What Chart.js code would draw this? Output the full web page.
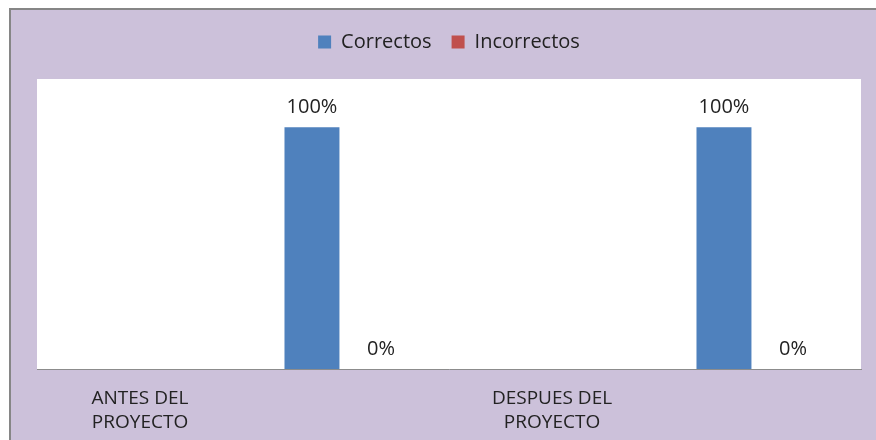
<!DOCTYPE html>
<html lang="es">
<head>
    <meta charset="UTF-8">
    <title>Correctos / Incorrectos</title>
    <style>
        html, body {
            margin: 0;
            width: 876px;
            height: 440px;
            overflow: hidden;
            background: #ffffff;
            font-family: "Open Sans", sans-serif;
        }
        #frame {
            position: absolute;
            left: 9px;
            top: 8px;
            width: 880px;
            height: 450px;
            background: #ccc1da;
            border-left: 2px solid #868686;
            border-top: 2px solid #868686;
        }
        #chart {
            position: absolute;
            left: 0;
            top: 0;
        }
    </style>
</head>
<body>
    <div id="frame"></div>
    <canvas id="chart" width="876" height="440"></canvas>

    <script src="https://cdn.jsdelivr.net/npm/chart.js"></script>
    <script>
        // datos
        const categorias = [['ANTES DEL', 'PROYECTO'], ['DESPUES DEL', 'PROYECTO']];
        const correctos = [100, 100];
        const incorrectos = [0, 0];
        const huecos = 3; // series vacias que ocupan sitio en el grupo (como en Excel)

        const fuente = { family: '"Open Sans", sans-serif', size: 20 };

        // fondo blanco del area de trazado
        const fondoArea = {
            id: 'fondoArea',
            beforeDraw(chart) {
                const a = chart.chartArea;
                const ctx = chart.ctx;
                ctx.save();
                ctx.fillStyle = '#ffffff';
                ctx.fillRect(a.left, a.top, a.right - a.left, a.bottom - a.top);
                ctx.restore();
            }
        };

        // mas espacio debajo de la leyenda
        const espacioLeyenda = {
            id: 'espacioLeyenda',
            beforeInit(chart) {
                const fitOrig = chart.legend.fit;
                chart.legend.fit = function () {
                    fitOrig.call(chart.legend);
                    this.height += 17;
                };
            }
        };

        // etiquetas de valor encima de cada barra
        const etiquetas = {
            id: 'etiquetas',
            afterDatasetsDraw(chart) {
                const ctx = chart.ctx;
                ctx.save();
                ctx.font = fuente.size + 'px ' + fuente.family;
                ctx.fillStyle = '#222222';
                ctx.textAlign = 'center';
                ctx.textBaseline = 'alphabetic';
                chart.data.datasets.forEach((ds, i) => {
                    if (!ds.label) return;
                    chart.getDatasetMeta(i).data.forEach((bar, j) => {
                        ctx.fillText(ds.data[j] + '%', bar.x, bar.y - 14);
                    });
                });
                ctx.restore();
            }
        };

        const datasets = [];
        for (let i = 0; i < huecos; i++) {
            datasets.push({ label: '', data: categorias.map(() => null) });
        }
        datasets.push({ label: 'Correctos', data: correctos, backgroundColor: '#4f81bd' });
        datasets.push({ label: 'Incorrectos', data: incorrectos, backgroundColor: '#c0504d' });

        new Chart(document.getElementById('chart'), {
            type: 'bar',
            data: { labels: categorias, datasets: datasets },
            options: {
                responsive: false,
                animation: false,
                categoryPercentage: 0.837,
                barPercentage: 0.797,
                layout: { padding: { left: 37, right: 15, top: 12, bottom: 0 } },
                plugins: {
                    tooltip: { enabled: false },
                    legend: {
                        position: 'top',
                        labels: {
                            filter: item => item.text !== '',
                            boxWidth: 13,
                            boxHeight: 13,
                            padding: 20,
                            color: '#222222',
                            font: fuente
                        }
                    }
                },
                scales: {
                    x: {
                        grid: { display: false },
                        border: { color: '#8c8c8c', width: 1 },
                        afterFit(scale) { scale.height = 71; },
                        ticks: {
                            color: '#222222',
                            font: { family: fuente.family, size: 19, lineHeight: 1.25 },
                            labelOffset: -103,
                            padding: 10,
                            maxRotation: 0
                        }
                    },
                    y: {
                        display: false,
                        min: 0,
                        max: 120
                    }
                }
            },
            plugins: [fondoArea, espacioLeyenda, etiquetas]
        });
    </script>
</body>
</html>
